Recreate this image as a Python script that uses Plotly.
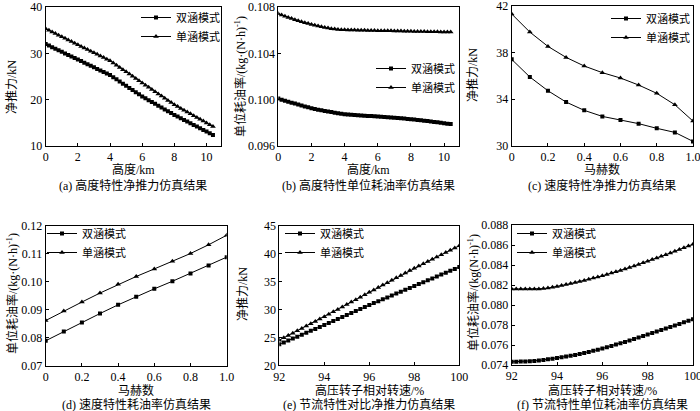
import plotly.graph_objects as go
from plotly.subplots import make_subplots

# ---- (a)/(b) altitude characteristics, x in km ----
alt_km = [0, 0.2, 0.4, 0.6, 0.8, 1.0, 1.2, 1.4, 1.6, 1.8, 2.0, 2.2, 2.4, 2.6, 2.8, 3.0, 3.2, 3.4,
          3.6, 3.8, 4.0, 4.2, 4.4, 4.6, 4.8, 5.0, 5.2, 5.4, 5.6, 5.8, 6.0, 6.2, 6.4, 6.6, 6.8, 7.0,
          7.2, 7.4, 7.6, 7.8, 8.0, 8.2, 8.4, 8.6, 8.8, 9.0, 9.2, 9.4, 9.6, 9.8, 10.0, 10.2, 10.4]

thrust_alt_dual = [32.00, 31.67, 31.33, 31.00, 30.66, 30.33, 29.99, 29.66, 29.32, 28.99, 28.65,
                   28.32, 27.98, 27.65, 27.31, 26.98, 26.64, 26.31, 25.97, 25.64, 25.30, 24.84,
                   24.38, 23.92, 23.46, 23.00, 22.54, 22.08, 21.62, 21.16, 20.70, 20.30, 19.90,
                   19.50, 19.10, 18.70, 18.30, 17.90, 17.50, 17.10, 16.70, 16.34, 15.98, 15.63,
                   15.27, 14.91, 14.55, 14.19, 13.84, 13.48, 13.12, 12.76, 12.40]
thrust_alt_single = [35.30, 34.96, 34.61, 34.27, 33.92, 33.58, 33.23, 32.89, 32.54, 32.20, 31.85,
                     31.50, 31.16, 30.82, 30.47, 30.13, 29.78, 29.44, 29.09, 28.75, 28.40, 27.92,
                     27.44, 26.96, 26.48, 26.00, 25.52, 25.04, 24.56, 24.08, 23.60, 23.13, 22.66,
                     22.19, 21.72, 21.25, 20.78, 20.31, 19.84, 19.37, 18.90, 18.51, 18.12, 17.72,
                     17.33, 16.94, 16.55, 16.16, 15.76, 15.37, 14.98, 14.59, 14.20]

sfc_alt_dual = [0.10010, 0.10000, 0.09991, 0.09983, 0.09974, 0.09966, 0.09958, 0.09950, 0.09942,
                0.09934, 0.09926, 0.09920, 0.09914, 0.09908, 0.09903, 0.09898, 0.09893, 0.09888,
                0.09883, 0.09879, 0.09875, 0.09872, 0.09869, 0.09867, 0.09865, 0.09863, 0.09861,
                0.09859, 0.09858, 0.09856, 0.09855, 0.09853, 0.09851, 0.09848, 0.09846, 0.09844,
                0.09841, 0.09839, 0.09837, 0.09834, 0.09832, 0.09829, 0.09825, 0.09822, 0.09818,
                0.09815, 0.09811, 0.09808, 0.09804, 0.09800, 0.09797, 0.09793, 0.09789]
sfc_alt_single = [0.10742, 0.10731, 0.10720, 0.10710, 0.10700, 0.10691, 0.10682, 0.10673, 0.10665,
                  0.10657, 0.10649, 0.10642, 0.10635, 0.10629, 0.10623, 0.10618, 0.10613, 0.10609,
                  0.10606, 0.10604, 0.10603, 0.10602, 0.10602, 0.10601, 0.10600, 0.10600, 0.10599,
                  0.10598, 0.10598, 0.10597, 0.10596, 0.10596, 0.10595, 0.10594, 0.10594, 0.10593,
                  0.10592, 0.10592, 0.10591, 0.10590, 0.10590, 0.10589, 0.10589, 0.10588, 0.10588,
                  0.10587, 0.10587, 0.10586, 0.10586, 0.10585, 0.10585, 0.10584, 0.10584]

# ---- (c)/(d) speed characteristics, x = Mach ----
mach = [0, 0.1, 0.2, 0.3, 0.4, 0.5, 0.6, 0.7, 0.8, 0.9, 1.0]
thrust_ma_dual = [37.40, 35.89, 34.71, 33.74, 33.03, 32.51, 32.20, 31.89, 31.49, 31.14, 30.37]
thrust_ma_single = [41.29, 39.74, 38.51, 37.57, 36.83, 36.26, 35.80, 35.20, 34.49, 33.51, 32.11]
sfc_ma_dual = [0.0790, 0.0823, 0.0855, 0.0887, 0.0918, 0.0947, 0.0975, 0.1002, 0.1030, 0.1058, 0.1088]
sfc_ma_single = [0.0862, 0.0896, 0.0928, 0.0960, 0.0991, 0.1019, 0.1046, 0.1073, 0.1101, 0.1132, 0.1166]

# ---- (e)/(f) throttle characteristics, x = relative HP rotor speed % ----
n_hp = [92.0, 92.2, 92.4, 92.6, 92.8, 93.0, 93.2, 93.4, 93.6, 93.8, 94.0, 94.2, 94.4, 94.6, 94.8,
        95.0, 95.2, 95.4, 95.6, 95.8, 96.0, 96.2, 96.4, 96.6, 96.8, 97.0, 97.2, 97.4, 97.6, 97.8,
        98.0, 98.2, 98.4, 98.6, 98.8, 99.0, 99.2, 99.4, 99.6, 99.8, 100.0]
thrust_n_dual = [23.76, 24.10, 24.44, 24.79, 25.13, 25.48, 25.82, 26.17, 26.51, 26.86, 27.20, 27.56,
                 27.92, 28.28, 28.64, 29.00, 29.36, 29.72, 30.08, 30.44, 30.80, 31.14, 31.48, 31.82,
                 32.16, 32.50, 32.84, 33.18, 33.52, 33.86, 34.20, 34.54, 34.88, 35.22, 35.56, 35.90,
                 36.24, 36.58, 36.92, 37.26, 37.60]
thrust_n_single = [24.50, 24.92, 25.34, 25.76, 26.18, 26.60, 27.02, 27.44, 27.86, 28.28, 28.70, 29.14,
                   29.57, 30.01, 30.45, 30.88, 31.32, 31.76, 32.20, 32.63, 33.07, 33.50, 33.94, 34.37,
                   34.80, 35.24, 35.67, 36.10, 36.53, 36.97, 37.40, 37.80, 38.20, 38.60, 39.00, 39.40,
                   39.80, 40.20, 40.60, 41.00, 41.40]
sfc_n_dual = [0.07432, 0.07433, 0.07434, 0.07436, 0.07438, 0.07440, 0.07445, 0.07451, 0.07457, 0.07463,
              0.07470, 0.07477, 0.07485, 0.07493, 0.07501, 0.07510, 0.07520, 0.07531, 0.07542, 0.07553,
              0.07565, 0.07578, 0.07591, 0.07604, 0.07617, 0.07630, 0.07645, 0.07660, 0.07675, 0.07690,
              0.07705, 0.07720, 0.07735, 0.07750, 0.07765, 0.07780, 0.07796, 0.07811, 0.07827, 0.07842,
              0.07858]
sfc_n_single = [0.08160, 0.08160, 0.08160, 0.08160, 0.08160, 0.08160, 0.08161, 0.08164, 0.08170, 0.08177,
                0.08185, 0.08194, 0.08204, 0.08214, 0.08224, 0.08235, 0.08246, 0.08257, 0.08269, 0.08280,
                0.08292, 0.08305, 0.08319, 0.08332, 0.08346, 0.08360, 0.08375, 0.08391, 0.08406, 0.08422,
                0.08438, 0.08454, 0.08470, 0.08487, 0.08503, 0.08520, 0.08537, 0.08555, 0.08572, 0.08590,
                0.08607]

# tick labels
ticks_km = [0, 2, 4, 6, 8, 10]
ticks_mach = [0, 0.2, 0.4, 0.6, 0.8, 1.0]
ticks_mach_text = ["0", "0.2", "0.4", "0.6", "0.8", "1.0"]
ticks_n = [92, 94, 96, 98, 100]
ticks_a = [10, 20, 30, 40]
ticks_b = [0.096, 0.100, 0.104, 0.108]
ticks_c = [30, 34, 38, 42]
ticks_d = [0.07, 0.08, 0.09, 0.10, 0.11, 0.12]
ticks_e = [20, 25, 30, 35, 40, 45]
ticks_f = [0.074, 0.076, 0.078, 0.080, 0.082, 0.084, 0.086, 0.088]

names = ["双涵模式", "单涵模式"]
x_titles = ["高度/km", "高度/km", "马赫数", "马赫数", "高压转子相对转速/%", "高压转子相对转速/%"]
y_titles = ["净推力/kN", "单位耗油率/(kg·(N·h)<sup>-1</sup>)", "净推力/kN",
            "单位耗油率/(kg·(N·h)<sup>-1</sup>)", "净推力/kN", "单位耗油率/(kg(N·h)<sup>-1</sup>)"]
captions = ["(a) 高度特性净推力仿真结果", "(b) 高度特性单位耗油率仿真结果", "(c) 速度特性净推力仿真结果",
            "(d) 速度特性耗油率仿真结果", "(e) 节流特性对比净推力仿真结果", "(f) 节流特性单位耗油率仿真结果"]

FONT = "Liberation Serif, Times New Roman, Noto Sans CJK SC, serif"
W, H = 700, 411

fig = make_subplots(rows=2, cols=3)

panels = [
    (1, 1, alt_km, thrust_alt_dual, thrust_alt_single),
    (1, 2, alt_km, sfc_alt_dual, sfc_alt_single),
    (1, 3, mach, thrust_ma_dual, thrust_ma_single),
    (2, 1, mach, sfc_ma_dual, sfc_ma_single),
    (2, 2, n_hp, thrust_n_dual, thrust_n_single),
    (2, 3, n_hp, sfc_n_dual, sfc_n_single),
]

for i, (r, c, xs, yd, ys) in enumerate(panels):
    leg = "legend" if i == 0 else f"legend{i + 1}"
    fig.add_trace(go.Scatter(x=xs, y=yd, name=names[0], mode="lines+markers", legend=leg,
                             line=dict(color="black", width=1),
                             marker=dict(symbol="square", size=4, color="black")), row=r, col=c)
    fig.add_trace(go.Scatter(x=xs, y=ys, name=names[1], mode="lines+markers", legend=leg,
                             line=dict(color="black", width=1),
                             marker=dict(symbol="triangle-up", size=5, color="black")), row=r, col=c)

boxes = [(45.7, 221, 7, 146), (278.3, 459, 7, 146), (511.7, 693, 5.7, 145.7),
         (45.7, 226.7, 225.7, 366), (279.3, 459.3, 225.7, 365.3), (511.7, 693, 225, 365)]
xranges = [[0, 10.9], [0, 10.9], [0, 1.0], [0, 1.0], [92, 100], [92, 100]]
yranges = [[10, 40], [0.096, 0.108], [30, 42], [0.07, 0.12], [20, 45], [0.074, 0.088]]
xticks = [(ticks_km, None), (ticks_km, None), (ticks_mach, ticks_mach_text),
          (ticks_mach, ticks_mach_text), (ticks_n, None), (ticks_n, None)]
yticks = [(ticks_a, None), (ticks_b, "%.3f"), (ticks_c, None), (ticks_d, "%.2f"),
          (ticks_e, None), (ticks_f, "%.3f")]

axis_common = dict(showline=True, linecolor="black", linewidth=1, mirror=True, automargin=False,
                   ticks="inside", ticklen=3, tickcolor="black", showgrid=False, zeroline=False,
                   ticklabeloverflow="allow",
                   tickfont=dict(family=FONT, size=12, color="black"))

for i, (x0, x1, y0, y1) in enumerate(boxes):
    sfx = "" if i == 0 else str(i + 1)
    tv, tt = xticks[i]
    xa = dict(axis_common, domain=[x0 / W, x1 / W], range=xranges[i], tickvals=tv)
    if tt:
        xa["ticktext"] = tt
    fig.layout["xaxis" + sfx].update(xa)
    yv, fmt = yticks[i]
    ya = dict(axis_common, domain=[1 - y1 / H, 1 - y0 / H], range=yranges[i], tickvals=yv)
    if fmt:
        ya["ticktext"] = [fmt % v for v in yv]
    fig.layout["yaxis" + sfx].update(ya)

    cx = (x0 + x1) / 2
    # x title and caption
    xt_y = 169 if i < 3 else 390
    cap_y = 185 if i < 3 else 404
    fig.add_annotation(text=x_titles[i], x=cx / W, y=1 - xt_y / H, xref="paper", yref="paper",
                       xanchor="center", yanchor="middle", showarrow=False,
                       font=dict(family=FONT, size=12, color="black"))
    fig.add_annotation(text=captions[i], x=cx / W, y=1 - cap_y / H, xref="paper", yref="paper",
                       xanchor="center", yanchor="middle", showarrow=False,
                       font=dict(family=FONT, size=12, color="black"))

# y titles (x px, y px)
ytitle_pos = [(12, 87), (240, 77), (473, 75), (12, 294), (243, 294), (473, 293)]
for i, (px_, py_) in enumerate(ytitle_pos):
    fig.add_annotation(text=y_titles[i], x=px_ / W, y=1 - py_ / H, xref="paper", yref="paper",
                       xanchor="center", yanchor="middle", showarrow=False, textangle=-90,
                       font=dict(family=FONT, size=12, color="black"))

# legends: (left px, top px)
legend_pos = [(136, 3), (371, 54), (606, 4), (42, 219), (280, 219), (512, 219)]
for i, (lx, ly) in enumerate(legend_pos):
    key = "legend" if i == 0 else f"legend{i + 1}"
    fig.layout[key] = dict(x=lx / W, y=1 - ly / H, xanchor="left", yanchor="top",
                           bgcolor="rgba(0,0,0,0)", borderwidth=0, itemwidth=30,
                           font=dict(family=FONT, size=11, color="black"))

fig.update_layout(width=W, height=H, margin=dict(l=0, r=0, t=0, b=0),
                  plot_bgcolor="white", paper_bgcolor="white", showlegend=True)

fig.write_html("out.html", config={"displayModeBar": False},
               post_script="document.body.style.margin='0';")
